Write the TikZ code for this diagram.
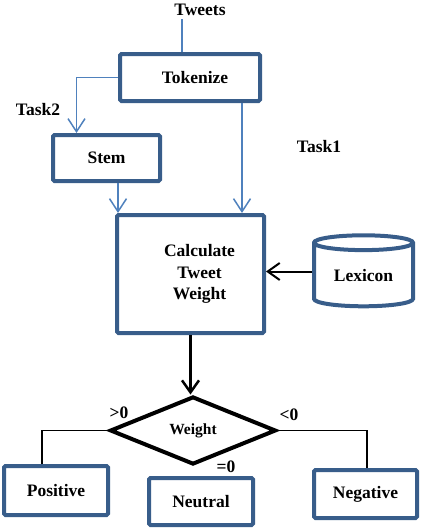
\documentclass[tikz,border=0pt]{standalone}
\usepackage{fontspec}
\setmainfont{Liberation Serif}
\usetikzlibrary{arrows.meta,shapes.geometric}
\definecolor{bBox}{HTML}{385D8A}
\definecolor{bLine}{HTML}{4F81BD}
\tikzset{
    txt/.style={font=\bfseries\fontsize{17.5}{21.5}\selectfont},
    box/.style={rectangle, draw=bBox, line width=4pt, rounded corners=1.5pt, fill=white, align=center, inner sep=0pt, txt},
    cyl/.style={cylinder, shape border rotate=90, aspect=0.25, draw=bBox, line width=4pt, fill=white, inner sep=0pt, txt},
    dia/.style={diamond, draw=black, line width=4pt, inner sep=0pt, font=\bfseries\fontsize{15.5}{18}\selectfont},
    flow/.style={draw=bLine, line width=1.5pt, -{Straight Barb[length=13pt,width=17pt]}},
    heavy/.style={draw=black, -{Straight Barb[length=12pt,width=17pt]}},
    branch/.style={draw=black, line width=1.3pt}
}

\begin{document}
\begin{tikzpicture}[x=1pt,y=-1pt]
\useasboundingbox (0,0) rectangle (423,530);
\node[txt] (tweets) at (200,10) {Tweets};
\node[box,minimum width=140pt,minimum height=47pt] (tok) at (190,77.5) {\hspace*{10pt}Tokenize};
\node[box,minimum width=107pt,minimum height=46pt] (stem) at (106.5,158) {Stem};
\node[box,minimum width=147pt,minimum height=118pt] (calc) at (190.5,274) {\hspace*{18pt}Calculate\\\hspace*{18pt}Tweet\\\hspace*{18pt}Weight};
\node[cyl,minimum width=99pt,minimum height=71pt] (lex) at (363.5,275.5) {Lexicon};
\node[dia,minimum width=166pt,minimum height=68pt] (wgt) at (193,430.5) {Weight};
\node[box,minimum width=104pt,minimum height=49pt] (pos) at (56,490.5) {Positive};
\node[box,minimum width=104pt,minimum height=47pt] (neu) at (201,501.5) {Neutral};
\node[box,minimum width=103pt,minimum height=48pt] (neg) at (365.5,494) {Negative};
\node[txt] (task2) at (38,110) {Task2};
\node[txt] (task1) at (319,147) {Task1};
\node[txt] (gt) at (119,413) {>0};
\node[txt] (lt) at (289,415) {<0};
\node[txt] (eq) at (226,467) {=0};
% blue task flow
\draw[bLine,line width=1.5pt] ([xshift=-8pt]tok.north) -- ([xshift=-8pt]tok.north |- tweets.south);
\draw[flow] (tok.west) -| ([xshift=-30pt]stem.north);
\draw[flow] ([xshift=52pt]tok.south) -- ([xshift=52pt]tok.south |- calc.north);
\draw[flow] ([xshift=11.5pt]stem.south) -- ([xshift=11.5pt]stem.south |- calc.north);
% lexicon and decision
\draw[heavy,line width=2pt] ([yshift=4pt]lex.west) -- ([yshift=4pt]lex.west -| calc.east);
\draw[heavy,line width=2.5pt] (calc.south) -- (calc.south |- wgt.north);
\draw[branch] (wgt.west) -| ([xshift=-14pt]pos.north);
\draw[branch] (wgt.east) -| ([xshift=1.5pt]neg.north);
\end{tikzpicture}
\end{document}
